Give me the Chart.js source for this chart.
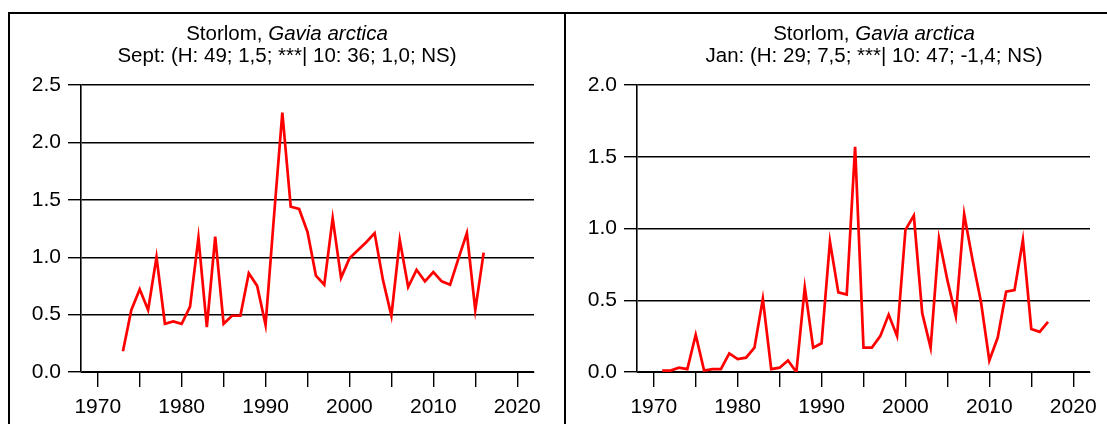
<!DOCTYPE html>
<html>
<head>
<meta charset="utf-8">
<script src="https://cdn.jsdelivr.net/npm/chart.js@4"></script>
<style>
  body { margin: 0; overflow: hidden; background: #fff; }
  .line { position: absolute; background: #000; }
  .panel { position: absolute; top: 14px; height: 410px; }
</style>
</head>
<body>
<div class="line" style="left:8px;top:12px;width:1099px;height:2px"></div>
<div class="line" style="left:8px;top:12px;width:2px;height:412px"></div>
<div class="line" style="left:564px;top:12px;width:2px;height:412px"></div>
<div class="panel" style="left:10px;width:554px"><canvas id="septChart"></canvas></div>
<div class="panel" style="left:566px;width:556px"><canvas id="janChart"></canvas></div>
<script>
// data
const septYears = [1973, 1974, 1975, 1976, 1977, 1978, 1979, 1980, 1981, 1982,
    1983, 1984, 1985, 1986, 1987, 1988, 1989, 1990, 1991, 1992,
    1993, 1994, 1995, 1996, 1997, 1998, 1999, 2000, 2001, 2002,
    2003, 2004, 2005, 2006, 2007, 2008, 2009, 2010, 2011, 2012,
    2013, 2014, 2015, 2016];
const septValues = [0.18, 0.54, 0.72, 0.54, 1.00, 0.42, 0.44, 0.42, 0.57, 1.17,
    0.39, 1.18, 0.42, 0.49, 0.49, 0.86, 0.75, 0.41, 1.35, 2.26,
    1.44, 1.42, 1.22, 0.84, 0.76, 1.34, 0.82, 0.99, 1.06, 1.13,
    1.21, 0.80, 0.49, 1.15, 0.74, 0.89, 0.79, 0.87, 0.79, 0.76,
    0.99, 1.21, 0.54, 1.04];

const janYears = [1971, 1972, 1973, 1974, 1975, 1976, 1977, 1978, 1979, 1980,
    1981, 1982, 1983, 1984, 1985, 1986, 1987, 1988, 1989, 1990,
    1991, 1992, 1993, 1994, 1995, 1996, 1997, 1998, 1999, 2000,
    2001, 2002, 2003, 2004, 2005, 2006, 2007, 2008, 2009, 2010,
    2011, 2012, 2013, 2014, 2015, 2016, 2017];
const janValues = [0.01, 0.01, 0.03, 0.02, 0.26, 0.01, 0.02, 0.02, 0.13, 0.09,
    0.10, 0.17, 0.51, 0.02, 0.03, 0.08, 0.00, 0.59, 0.17, 0.20,
    0.91, 0.555, 0.54, 1.57, 0.17, 0.17, 0.25, 0.40, 0.25, 0.99,
    1.09, 0.41, 0.17, 0.93, 0.64, 0.39, 1.10, 0.78, 0.49, 0.08,
    0.24, 0.56, 0.57, 0.92, 0.30, 0.28, 0.35];

const xTicks = [1970, 1975, 1980, 1985, 1990, 1995, 2000, 2005, 2010, 2015, 2020];
const speciesName = 'Storlom, ';
const speciesLatin = 'Gavia arctica';
const septSubtitle = 'Sept: (H: 49; 1,5; ***| 10: 36; 1,0; NS)';
const janSubtitle = 'Jan: (H: 29; 7,5; ***| 10: 47; -1,4; NS)';

const fontFamily = '"Liberation Sans", Arial, sans-serif';

// two line title, second half of the first line in italics
const titlePlugin = {
    id: 'mixedTitle',
    afterDraw(chart, args, opts) {
        const ctx = chart.ctx;
        const cx = opts.center != null ? opts.center : chart.width / 2;
        ctx.save();
        ctx.fillStyle = '#000';
        ctx.textBaseline = 'alphabetic';
        ctx.textAlign = 'left';
        const normal = '20.5px ' + fontFamily;
        const italic = 'italic 20.5px ' + fontFamily;
        ctx.font = normal;
        const w1 = ctx.measureText(speciesName).width;
        ctx.font = italic;
        const w2 = ctx.measureText(speciesLatin).width;
        let x = cx - (w1 + w2) / 2;
        ctx.font = normal;
        ctx.fillText(speciesName, x, 25.5);
        ctx.font = italic;
        ctx.fillText(speciesLatin, x + w1, 25.5);
        ctx.font = normal;
        ctx.textAlign = 'center';
        ctx.fillText(opts.subtitle, cx, 47.8);
        ctx.restore();
    }
};

function makeChart(id, years, values, yMax, subtitle, rightPad, titleCenter) {
    const points = years.map((yr, i) => ({ x: yr, y: values[i] }));
    return new Chart(document.getElementById(id), {
        type: 'line',
        data: {
            datasets: [{
                data: points,
                borderColor: '#ff0000',
                borderWidth: 2.7,
                pointRadius: 0,
                tension: 0,
                fill: false
            }]
        },
        options: {
            responsive: true,
            maintainAspectRatio: false,
            animation: false,
            layout: { padding: { top: 71, right: rightPad, left: 0, bottom: 0 } },
            plugins: {
                legend: { display: false },
                tooltip: { enabled: false },
                mixedTitle: { subtitle: subtitle, center: titleCenter }
            },
            scales: {
                x: {
                    type: 'linear',
                    min: 1968,
                    max: 2022,
                    afterBuildTicks: (scale) => {
                        scale.ticks = xTicks.map(v => ({ value: v }));
                    },
                    afterFit: (scale) => { scale.height = 52; },
                    ticks: {
                        autoSkip: false,
                        maxRotation: 0,
                        padding: 8,
                        color: '#000',
                        font: { family: fontFamily, size: 21 },
                        callback: (v) => (v % 10 === 0 ? String(v) : '')
                    },
                    grid: {
                        drawOnChartArea: false,
                        drawTicks: true,
                        tickLength: 15,
                        color: '#000',
                        lineWidth: 1.4
                    },
                    border: { display: true, color: '#000', width: 1 }
                },
                y: {
                    min: 0,
                    max: yMax,
                    afterFit: (scale) => { scale.width = 71; },
                    ticks: {
                        stepSize: 0.5,
                        padding: 7,
                        color: '#000',
                        font: { family: fontFamily, size: 21 },
                        callback: (v) => v.toFixed(1)
                    },
                    grid: {
                        color: '#000',
                        lineWidth: 1.4,
                        tickLength: 13
                    },
                    border: { display: true, color: '#000', width: 1.6 }
                }
            }
        },
        plugins: [titlePlugin]
    });
}

var septChart = makeChart('septChart', septYears, septValues, 2.5, septSubtitle, 30, null);
var janChart = makeChart('janChart', janYears, janValues, 2.0, janSubtitle, 32, 308);
</script>
</body>
</html>
